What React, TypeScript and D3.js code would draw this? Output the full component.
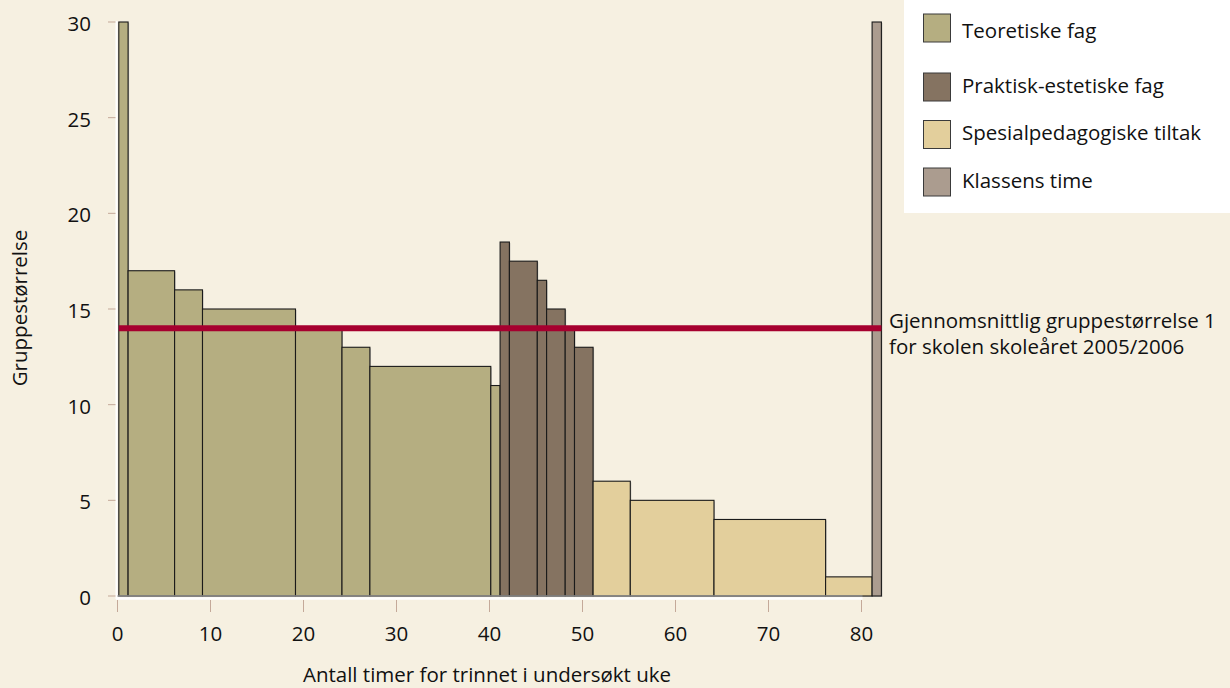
import React from "react";
import * as d3 from "d3";

const categories = ["Teoretiske fag", "Praktisk-estetiske fag", "Spesialpedagogiske tiltak", "Klassens time"];
const categoryColors = ["#b5ae81", "#857361", "#e3cf9c", "#ab9c8f"];

// each bar: hours (width) and group size (height), in order along the x axis
const teoretiskeHours = [1, 5, 3, 10, 5, 3, 13, 1];
const teoretiskeSize = [30, 17, 16, 15, 14, 13, 12, 11];
const praktiskHours = [1, 3, 1, 2, 1, 2];
const praktiskSize = [18.5, 17.5, 16.5, 15, 14, 13];
const spesialHours = [4, 9, 12, 5];
const spesialSize = [6, 5, 4, 1];
const klassensHours = [1];
const klassensSize = [30];

const averageSize = 14;
const xTicks = [0, 10, 20, 30, 40, 50, 60, 70, 80];
const yTicks = [0, 5, 10, 15, 20, 25, 30];

export default function App() {
  const W = 1230, H = 688;
  const x = d3.scaleLinear().domain([0, 80]).range([117.5, 861.5]);
  const y = d3.scaleLinear().domain([0, 30]).range([596, 22]);

  const groups = [
    [teoretiskeHours, teoretiskeSize],
    [praktiskHours, praktiskSize],
    [spesialHours, spesialSize],
    [klassensHours, klassensSize],
  ];
  const bars: { x0: number; x1: number; v: number; c: number }[] = [];
  let cum = 0;
  groups.forEach(([hrs, sz], gi) => {
    hrs.forEach((h, i) => {
      bars.push({ x0: cum, x1: cum + h, v: sz[i], c: gi });
      cum += h;
    });
  });
  const off = 1.3;
  const font = "'Open Sans', 'Noto Sans', sans-serif";
  const fs = 20.5;
  const swatchTop = [14, 73, 120.5, 168];
  const textBase = [38, 93, 140, 188];

  return (
    <svg width={W} height={H} style={{ position: "absolute", left: 0, top: 0 }} fontFamily={font}>
      <rect width={W} height={H} fill="#f6f0e1" />
      {/* legend box */}
      <rect x={904} y={0} width={W - 904} height={213} fill="#ffffff" />
      {categories.map((c, i) => (
        <g key={c}>
          <rect x={923.5} y={swatchTop[i]} width={27} height={28} fill={categoryColors[i]} stroke="#3a3a3a" strokeWidth={1} />
          <text x={962} y={textBase[i]} fontSize={fs} fill="#111">{c}</text>
        </g>
      ))}

      {/* y axis */}
      <line x1={116.5} x2={116.5} y1={y(30) - 1} y2={y(0) + 3} stroke="#ffffff" strokeWidth={2} />
      {yTicks.map(t => (
        <g key={t}>
          <line x1={108} x2={115.5} y1={y(t)} y2={y(t)} stroke="#c4a999" strokeWidth={1} />
          <text x={91} y={y(t) + 9} textAnchor="end" fontSize={fs} fill="#111">{t}</text>
        </g>
      ))}
      {/* x axis */}
      <line x1={116} x2={x(80) + 1} y1={y(0) + 2.5} y2={y(0) + 2.5} stroke="#ffffff" strokeWidth={2.5} />
      {xTicks.map(t => (
        <g key={t}>
          <line x1={x(t)} x2={x(t)} y1={y(0) + 4} y2={y(0) + 16} stroke="#c4a999" strokeWidth={1} />
          <text x={x(t)} y={641} textAnchor="middle" fontSize={fs} fill="#111">{t}</text>
        </g>
      ))}

      {/* bars */}
      {bars.map((b, i) => (
        <rect key={"s" + i} x={x(b.x0) + off + 1} y={y(b.v) + 1} width={x(b.x1) - x(b.x0)} height={y(0) - y(b.v)} fill="#8a8a8a" opacity={0.45} />
      ))}
      {bars.map((b, i) => (
        <rect key={i} x={x(b.x0) + off} y={y(b.v)} width={x(b.x1) - x(b.x0)} height={y(0) - y(b.v)} fill={categoryColors[b.c]} stroke="#1a1a1a" strokeWidth={1.1} />
      ))}
      <line x1={x(0)} x2={x(80) + 1} y1={y(0)} y2={y(0)} stroke="#8f8f8f" strokeWidth={1.5} />

      {/* average line */}
      <line x1={x(0) + off} x2={x(cum) + off} y1={y(averageSize)} y2={y(averageSize)} stroke="#a6002f" strokeWidth={6} />
      <text x={889} y={328} fontSize={fs} fill="#111">Gjennomsnittlig gruppestørrelse 1</text>
      <text x={889} y={354} fontSize={fs} fill="#111">for skolen skoleåret 2005/2006</text>

      {/* axis titles */}
      <text x={487} y={682} textAnchor="middle" fontSize={fs} fill="#111">Antall timer for trinnet i undersøkt uke</text>
      <text transform={`translate(27,${308}) rotate(-90)`} textAnchor="middle" fontSize={fs} fill="#111">Gruppestørrelse</text>
    </svg>
  );
}
